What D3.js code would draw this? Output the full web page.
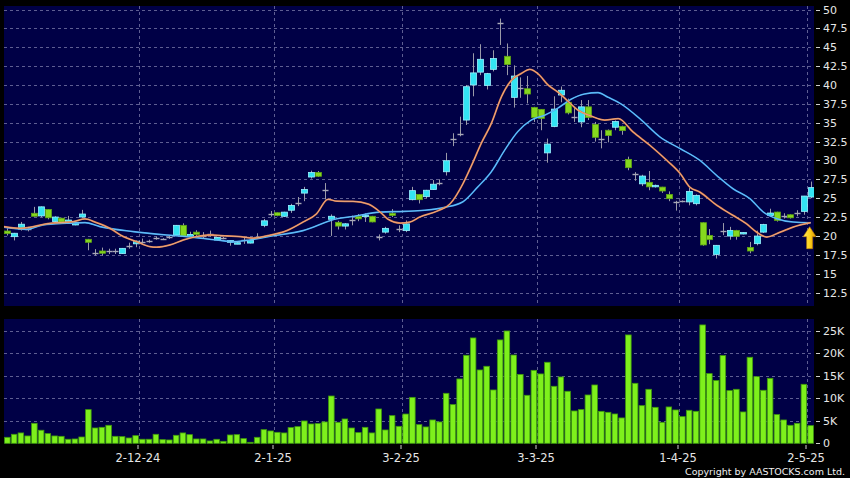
<!DOCTYPE html>
<html><head><meta charset="utf-8">
<script src="https://cdn.jsdelivr.net/npm/d3@7"></script>
<style>html,body{margin:0;padding:0;background:#000;}svg{display:block}</style>
</head><body>
<svg id="c" width="850" height="478"></svg>
<script>
// ---- DATA ----
const opens = [20.65,19.9,20.9,20.9,23.0,22.65,23.5,21.9,22.35,21.85,
21.45,22.5,19.55,17.8,18.0,18.0,18.0,17.65,18.7,18.95,
19.25,19.3,19.7,19.6,19.8,20.1,21.4,19.9,20.5,20.05,
20.2,19.45,19.7,19.15,18.95,19.4,19.05,19.9,21.4,22.95,
23.07,22.6,23.4,24.4,25.67,27.8,28.4,26.07,22.2,21.8,
21.3,22.05,22.58,22.6,22.6,19.84,20.5,23.0,20.94,20.7,
24.8,25.5,25.2,26.15,27.0,28.5,32.8,33.45,35.35,40.0,
41.7,39.95,42.07,48.16,43.8,38.36,39.6,39.5,37.03,36.77,
31.0,34.5,38.67,37.7,35.7,35.1,37.1,34.78,32.9,34.0,
34.4,34.5,30.14,28.15,26.9,27.1,26.55,26.47,25.5,24.5,
24.6,24.5,24.27,21.75,20.07,17.55,20.6,19.98,20.73,20.3,
18.47,18.97,20.5,22.7,23.16,22.63,22.8,23.03,23.25,25.15];
const highs = [21.0,20.4,21.85,21.2,23.85,23.9,23.55,22.6,22.4,22.65,
21.85,23.45,19.6,18.25,18.45,18.3,18.3,18.4,19.1,19.4,
19.65,19.5,19.9,19.7,20.0,21.45,21.67,20.55,20.75,20.5,
20.7,19.85,19.9,19.45,19.15,19.8,19.45,20.35,22.25,23.3,
23.1,23.2,24.25,25.15,26.5,28.65,28.6,27.0,22.85,22.0,
21.7,22.7,22.9,23.0,22.65,20.2,21.2,23.55,21.4,22.05,
26.5,25.55,26.1,27.4,27.5,31.0,33.6,35.8,40.0,44.2,
45.4,41.6,44.6,48.8,45.5,42.6,41.0,41.2,37.1,36.8,
32.9,38.5,39.8,38.2,37.1,38.0,38.0,35.1,34.0,34.1,
35.3,34.6,30.5,28.45,28.1,28.6,26.8,26.5,25.9,24.65,
24.7,26.4,25.5,21.8,20.9,18.8,21.7,21.2,20.8,20.5,
19.2,20.7,21.6,23.6,23.2,23.0,22.85,23.4,25.3,27.2];
const lows = [20.05,19.4,20.7,20.6,22.55,22.5,22.2,21.65,21.7,21.75,
21.4,22.4,18.1,17.4,17.4,17.6,17.6,17.6,18.3,18.5,
18.95,19.1,19.5,19.45,19.6,20.05,19.9,19.7,19.95,19.7,
19.9,19.4,19.55,18.7,18.9,18.95,19.0,19.6,21.15,22.55,
22.6,22.5,23.05,23.95,24.6,27.6,27.8,24.83,20.0,20.85,
20.85,21.4,21.95,21.85,21.8,19.4,20.3,22.5,20.5,20.5,
24.7,24.3,25.0,26.1,26.7,28.0,31.9,33.2,34.7,38.5,
41.3,39.4,41.8,45.3,41.3,37.0,38.3,37.56,35.1,34.0,
29.7,34.4,37.7,36.1,35.1,34.4,35.35,32.5,31.6,32.4,
34.0,33.4,28.7,27.3,26.6,26.05,26.4,25.7,24.6,23.35,
24.45,24.05,24.05,18.7,18.9,17.0,20.1,19.5,19.5,20.2,
17.7,18.75,20.4,22.5,21.9,22.3,22.3,22.6,22.8,25.0];
const closes = [20.3,20.35,21.55,20.9,22.6,23.85,22.4,22.5,21.8,22.1,
21.8,22.9,19.15,17.8,17.7,18.0,18.0,18.35,18.7,19.3,
19.25,19.3,19.7,19.6,19.8,21.4,19.95,20.2,20.2,20.05,
20.2,19.8,19.7,19.4,19.1,19.4,19.4,19.9,22.0,22.95,
22.7,23.15,24.04,24.4,26.16,28.4,27.9,26.07,22.6,21.3,
21.6,22.05,22.26,22.75,21.85,19.84,21.0,22.7,20.94,21.6,
26.0,24.8,26.05,26.85,27.0,29.96,32.8,33.45,39.77,41.6,
43.4,41.5,43.5,48.16,42.7,41.18,39.6,38.8,35.7,35.57,
32.17,36.8,39.3,36.3,35.7,37.1,35.7,33.06,32.9,33.3,
35.15,33.95,29.04,28.15,27.93,26.5,26.7,25.95,24.93,24.5,
24.6,25.9,25.37,18.8,19.5,18.75,20.6,20.73,19.94,20.45,
18.0,19.98,21.5,23.03,22.06,22.63,22.4,23.03,25.28,26.4];
// volume in thousands of shares
const volumes = [1.33,2.0,2.3,1.63,4.44,2.9,2.15,1.63,1.55,0.9,
0.96,1.4,7.48,3.4,3.55,4.0,1.55,1.48,1.18,1.7,
0.9,0.9,2.0,0.81,0.74,1.78,2.3,1.92,0.96,0.96,
0.52,0.89,0.44,1.85,1.92,1.04,0.22,1.33,3.03,2.74,
2.44,2.3,3.48,3.7,4.96,4.29,4.37,4.74,10.5,4.66,
5.4,3.4,2.37,3.55,2.3,7.62,2.96,6.14,3.77,6.5,
10.2,4.14,3.63,5.18,4.74,11.1,8.59,14.29,19.54,23.39,
16.28,17.1,11.84,22.95,24.94,19.6,15.3,10.66,16.2,15.4,
17.99,12.66,14.73,11.55,7.18,7.48,10.73,12.95,7.1,6.88,
6.51,5.63,24.06,13.32,8.36,11.99,7.99,4.66,8.07,7.4,
5.92,7.33,7.1,26.28,15.47,13.92,19.47,11.7,11.99,6.96,
19.1,14.8,11.77,14.43,6.37,5.18,4.0,4.44,13.1,3.92];
// moving averages, [bar index, value]
const maShort = [[-0.5,21.23],[1.9,21.0],[6.3,21.67],[9.8,21.9],[11.5,22.25],[13.2,21.75],[15.2,21.0],[17.2,19.9],[19.15,19.24],[21.1,18.58],[22.1,18.5],[24.1,18.8],[26.1,19.46],[28.0,19.9],[30.0,20.12],[32.5,20.0],[34.5,19.9],[36.4,19.7],[38.4,20.0],[41.4,20.7],[43.8,21.83],[45.8,22.93],[47.5,24.85],[48.8,24.6],[51.2,24.57],[53.5,24.2],[55.3,23.1],[56.4,22.2],[58.2,21.7],[59.6,21.83],[61.1,22.5],[63.7,23.3],[65.6,24.26],[67.5,26.93],[68.7,29.2],[70.2,32.26],[71.7,34.9],[73.2,38.45],[74.7,40.65],[76.1,41.5],[77.4,42.07],[78.6,41.5],[80.1,40.0],[81.5,39.1],[83.0,37.9],[84.5,36.68],[86.5,35.88],[88.5,35.35],[90.5,35.55],[92.7,33.76],[95.2,32.0],[97.7,30.0],[99.7,28.24],[101.1,26.47],[102.6,25.8],[105.1,24.05],[107.5,22.72],[109.5,21.6],[111.0,20.5],[112.5,19.85],[114.5,20.5],[116.4,21.17],[119.0,21.75]];
const maLong = [[-0.5,21.14],[2.85,20.87],[5.3,21.45],[8.8,21.67],[11.5,21.76],[13.7,21.23],[18.65,20.57],[23.6,20.12],[26.6,19.9],[31.0,19.46],[33.5,19.24],[35.9,19.46],[38.6,19.9],[43.8,20.7],[48.8,22.27],[51.2,22.58],[55.2,23.15],[58.8,23.25],[61.8,23.4],[64.8,23.78],[67.5,24.53],[69.7,26.5],[71.7,28.5],[73.7,31.4],[75.6,33.8],[77.6,35.35],[79.6,36.0],[81.5,36.9],[83.5,38.1],[85.5,38.8],[87.5,38.98],[89.0,38.36],[90.9,37.5],[93.7,35.53],[96.7,33.1],[99.7,31.55],[102.6,30.0],[105.1,28.0],[107.5,26.25],[110.0,24.93],[112.0,23.16],[114.0,22.28],[116.4,21.84],[119.0,21.75]];
const priceTicks = [12.5,15,17.5,20,22.5,25,27.5,30,32.5,35,37.5,40,42.5,45,47.5,50];
const volTicks = [0,5,10,15,20,25];
const dateLabels = ["2-12-24","2-1-25","3-2-25","3-3-25","1-4-25","2-5-25"];
const dateIdx = [20,40,59,79,100,119];
const copyright = "Copyright by AASTOCKS.com Ltd.";

// ---- LAYOUT ----
const N = closes.length;
const L = 4, R = 814;
const PT = 6, PB = 306, VT = 319, VB = 443.5;
const svg = d3.select("#c");
const xEdge = d3.scaleLinear().domain([0, N]).range([L, R]);
const xc = i => xEdge(i + 0.5);
const yP = d3.scaleLinear().domain([12.5, 50]).range([292.5, 9.5]);
const yV = d3.scaleLinear().domain([0, 25]).range([443.3, 330.7]);

const BG = "#000046", GRID = "#5e5e92";
svg.append("rect").attr("width",850).attr("height",478).attr("fill","#000");
svg.append("rect").attr("x",L).attr("y",PT).attr("width",R-L).attr("height",PB-PT).attr("fill",BG);
svg.append("rect").attr("x",L).attr("y",VT).attr("width",R-L).attr("height",VB-VT).attr("fill",BG);

const defs = svg.append("defs");
defs.append("clipPath").attr("id","pc").append("rect").attr("x",L).attr("y",PT).attr("width",R-L).attr("height",PB-PT);
const grad = defs.append("linearGradient").attr("id","ag").attr("x1","0").attr("x2","1").attr("y1","0").attr("y2","0");
grad.append("stop").attr("offset","0").attr("stop-color","#ffe860");
grad.append("stop").attr("offset","0.5").attr("stop-color","#ffd21a");
grad.append("stop").attr("offset","1").attr("stop-color","#d89000");

// grids
const g = svg.append("g");
priceTicks.forEach(v => {
  const y = Math.round(yP(v)) + 0.5;
  g.append("line").attr("x1",L).attr("x2",R).attr("y1",y).attr("y2",y)
   .attr("stroke",GRID).attr("stroke-dasharray","3,3");
});
volTicks.slice(1).forEach(v => {
  const y = Math.round(yV(v)) + 0.5;
  g.append("line").attr("x1",L).attr("x2",R).attr("y1",y).attr("y2",y)
   .attr("stroke",GRID).attr("stroke-dasharray","3,3");
});
dateIdx.forEach(i => {
  const x = Math.round(xEdge(i)) + 0.5;
  [[PT,PB],[VT,VB]].forEach(([a,b]) =>
    g.append("line").attr("x1",x).attr("x2",x).attr("y1",a).attr("y2",b)
     .attr("stroke",GRID).attr("stroke-dasharray","3,3"));
});

// volume bars
svg.append("g").selectAll("rect").data(volumes).join("rect")
  .attr("x",(d,i)=>xEdge(i)+0.6).attr("width",xEdge(1)-xEdge(0)-1.2)
  .attr("y",d=>yV(d)).attr("height",d=>yV(0)-yV(d))
  .attr("fill","#7ef01c").attr("stroke","#3f9a0c").attr("stroke-width",0.8);

// candles
const cg = svg.append("g").attr("clip-path","url(#pc)");
const bw = 5;
d3.range(N).forEach(i => {
  const o = opens[i], c = closes[i], h = highs[i], l = lows[i];
  const x = Math.round(xc(i)) + 0.5;
  cg.append("line").attr("x1",x).attr("x2",x).attr("y1",yP(h)).attr("y2",yP(l))
    .attr("stroke","#9a9aa8").attr("stroke-width",1);
  if (o === c) {
    const y = Math.round(yP(c)) + 0.5;
    cg.append("line").attr("x1",x-3).attr("x2",x+3).attr("y1",y).attr("y2",y)
      .attr("stroke","#a8a8b8").attr("stroke-width",1.4);
  } else {
    const up = c > o;
    const top = yP(Math.max(o,c)), bot = yP(Math.min(o,c));
    cg.append("rect").attr("x",x-bw/2-0.5).attr("y",top).attr("width",bw+1)
      .attr("height",Math.max(1.5,bot-top))
      .attr("fill", up ? "#33e3f3" : "#86d81e")
      .attr("stroke", up ? "#9cf2ff" : "#5ea414").attr("stroke-width",0.8);
  }
});

// moving averages
const line = d3.line().x(d=>xEdge(d[0]+0.5)).y(d=>yP(d[1])).curve(d3.curveMonotoneX);
cg.append("path").attr("d",line(maLong)).attr("fill","none").attr("stroke","#3aa4ee").attr("stroke-width",1.6);
cg.append("path").attr("d",line(maLong)).attr("fill","none").attr("stroke","#9fd8ff").attr("stroke-width",0.5);
cg.append("path").attr("d",line(maShort)).attr("fill","none").attr("stroke","#d97a44").attr("stroke-width",1.8);
cg.append("path").attr("d",line(maShort)).attr("fill","none").attr("stroke","#f7c6aa").attr("stroke-width",0.6);

// arrow annotation at last bar
const last = maShort[maShort.length-1];
const ax = xc(N-1) - 1, ay = yP(last[1]) + 4;
const ap = d3.path();
ap.moveTo(ax, ay); ap.lineTo(ax+6.5, ay+10); ap.lineTo(ax+3, ay+10);
ap.lineTo(ax+3, ay+22); ap.lineTo(ax-3, ay+22); ap.lineTo(ax-3, ay+10);
ap.lineTo(ax-6.5, ay+10); ap.closePath();
svg.append("path").attr("d",ap.toString()).attr("fill","url(#ag)").attr("stroke","#b87800").attr("stroke-width",0.6);

// axes text
const FONT = "DejaVu Sans, Verdana, sans-serif";
const ax1 = svg.append("g").attr("font-family",FONT).attr("font-size",11).attr("fill","#e6e6e6");
priceTicks.forEach(v => {
  const y = Math.round(yP(v)) + 0.5;
  ax1.append("line").attr("x1",816).attr("x2",820).attr("y1",y).attr("y2",y).attr("stroke","#cfcfcf");
  ax1.append("text").attr("x",823).attr("y",y).attr("dy","0.35em").text(v);
});
volTicks.forEach(v => {
  const y = Math.round(yV(v)) + 0.5;
  ax1.append("line").attr("x1",816).attr("x2",820).attr("y1",y).attr("y2",y).attr("stroke","#cfcfcf");
  ax1.append("text").attr("x",823).attr("y",y).attr("dy","0.35em").text(v === 0 ? "0" : v + "K");
});
dateIdx.forEach((i,k) => {
  const x = Math.round(xEdge(i)) + 0.5;
  ax1.append("line").attr("x1",x - 1.5).attr("x2",x - 1.5).attr("y1",445).attr("y2",449).attr("stroke","#cfcfcf");
  ax1.append("text").attr("x",x - 1.5).attr("y",462).attr("text-anchor","middle")
    .attr("font-size",11.5).text(dateLabels[k]);
});
svg.append("text").attr("x",845).attr("y",475).attr("text-anchor","end")
  .attr("font-family",FONT).attr("font-size",9.5).attr("fill","#f0f0f0").text(copyright);
</script>
</body></html>
